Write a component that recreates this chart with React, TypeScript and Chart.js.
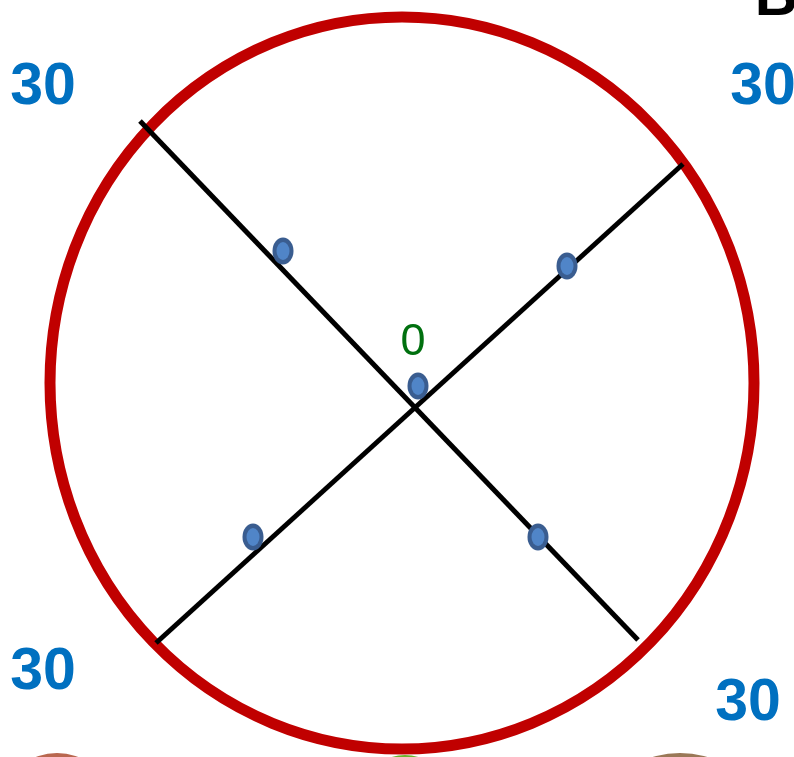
import React, { useEffect, useRef } from "react";
import { Chart, registerables } from "chart.js";

Chart.register(...registerables);

// Data (in picture units: x right, y down)
const ringCenter = [402, 383];
const ringRadii = [352, 366];
const crossLineA = [
  { x: 140, y: 121 },
  { x: 638, y: 640 },
];
const crossLineB = [
  { x: 156, y: 643 },
  { x: 683, y: 164 },
];
const markerPoints = [
  { x: 283, y: 251 },
  { x: 567, y: 266 },
  { x: 418, y: 386 },
  { x: 253, y: 537 },
  { x: 538, y: 537 },
];
const cornerLabels = ["30", "30", "30", "30"];
const cornerLabelPos = [
  { x: 43, y: 86 },
  { x: 763, y: 86 },
  { x: 43, y: 671 },
  { x: 748, y: 702 },
];
const centerLabel = "0";
const centerLabelPos = { x: 413, y: 341 };
const cornerLetter = "B";
const cornerLetterPos = { x: 776, y: 15 };
const blobCenters = [
  { x: 57, y: 792 },
  { x: 405, y: 800 },
  { x: 680, y: 792 },
];
const blobRadii = [
  [48, 39],
  [45, 45],
  [62, 39],
];
const blobColors = ["#b9674f", "#6cb52c", "#9a7857"];

function makeDot(): HTMLCanvasElement {
  const c = document.createElement("canvas");
  c.width = 24;
  c.height = 30;
  const g = c.getContext("2d")!;
  g.beginPath();
  g.ellipse(12, 15, 10.5, 13.5, 0, 0, Math.PI * 2);
  g.fillStyle = "#3a5d90";
  g.fill();
  g.beginPath();
  g.ellipse(12, 15, 6.5, 9, 0, 0, Math.PI * 2);
  g.fillStyle = "#5085c8";
  g.fill();
  return c;
}

const diagramPlugin = {
  id: "diagram",
  beforeDatasetsDraw(chart: any) {
    const { ctx, scales } = chart;
    const xs = scales.x;
    const ys = scales.y;
    ctx.save();
    // bottom blobs
    blobCenters.forEach((p, i) => {
      const cx = xs.getPixelForValue(p.x);
      const cy = ys.getPixelForValue(p.y);
      const rx = Math.abs(xs.getPixelForValue(p.x + blobRadii[i][0]) - cx);
      const ry = Math.abs(ys.getPixelForValue(p.y + blobRadii[i][1]) - cy);
      ctx.beginPath();
      ctx.ellipse(cx, cy, rx, ry, 0, 0, Math.PI * 2);
      ctx.fillStyle = blobColors[i];
      ctx.fill();
    });
    // red ring
    const cx = xs.getPixelForValue(ringCenter[0]);
    const cy = ys.getPixelForValue(ringCenter[1]);
    const rx = Math.abs(xs.getPixelForValue(ringCenter[0] + ringRadii[0]) - cx);
    const ry = Math.abs(ys.getPixelForValue(ringCenter[1] + ringRadii[1]) - cy);
    ctx.beginPath();
    ctx.ellipse(cx, cy, rx, ry, 0, 0, Math.PI * 2);
    ctx.lineWidth = 11;
    ctx.strokeStyle = "#c00000";
    ctx.stroke();
    ctx.restore();
  },
  afterDatasetsDraw(chart: any) {
    const { ctx, scales } = chart;
    const xs = scales.x;
    const ys = scales.y;
    ctx.save();
    ctx.textAlign = "center";
    ctx.textBaseline = "middle";
    ctx.font = "bold 59px 'Liberation Sans', Arial, sans-serif";
    ctx.fillStyle = "#0070c0";
    cornerLabels.forEach((t, i) => {
      ctx.fillText(t, xs.getPixelForValue(cornerLabelPos[i].x), ys.getPixelForValue(cornerLabelPos[i].y) + 2);
    });
    ctx.font = "45px 'Liberation Sans', Arial, sans-serif";
    ctx.fillStyle = "#00700f";
    ctx.fillText(centerLabel, xs.getPixelForValue(centerLabelPos.x), ys.getPixelForValue(centerLabelPos.y) + 2);
    ctx.font = "bold 59px 'Liberation Sans', Arial, sans-serif";
    ctx.fillStyle = "#000000";
    ctx.textBaseline = "alphabetic";
    ctx.fillText(cornerLetter, xs.getPixelForValue(cornerLetterPos.x), ys.getPixelForValue(cornerLetterPos.y));
    ctx.restore();
  },
};

export default function App() {
  const ref = useRef<HTMLCanvasElement | null>(null);
  useEffect(() => {
    document.body.style.margin = "0";
    document.body.style.background = "#ffffff";
    const dot = makeDot();
    const chart = new Chart(ref.current!, {
      type: "scatter",
      data: {
        datasets: [
          {
            data: markerPoints,
            pointStyle: dot as any,
            pointRadius: 12,
            showLine: false,
          },
          {
            type: "line",
            data: crossLineA,
            borderColor: "#000000",
            borderWidth: 5,
            pointRadius: 0,
            showLine: true,
            fill: false,
          },
          {
            type: "line",
            data: crossLineB,
            borderColor: "#000000",
            borderWidth: 5,
            pointRadius: 0,
            showLine: true,
            fill: false,
          },
        ],
      } as any,
      options: {
        responsive: false,
        animation: false,
        clip: false as any,
        layout: { padding: 0, autoPadding: false } as any,
        plugins: { legend: { display: false }, tooltip: { enabled: false } },
        scales: {
          x: { type: "linear", min: 0, max: 794, display: false },
          y: { type: "linear", min: 0, max: 757, reverse: true, display: false },
        },
      },
      plugins: [diagramPlugin],
    });
    return () => chart.destroy();
  }, []);
  return (
    <canvas ref={ref} width={794} height={757} style={{ display: "block", width: 794, height: 757 }} />
  );
}
